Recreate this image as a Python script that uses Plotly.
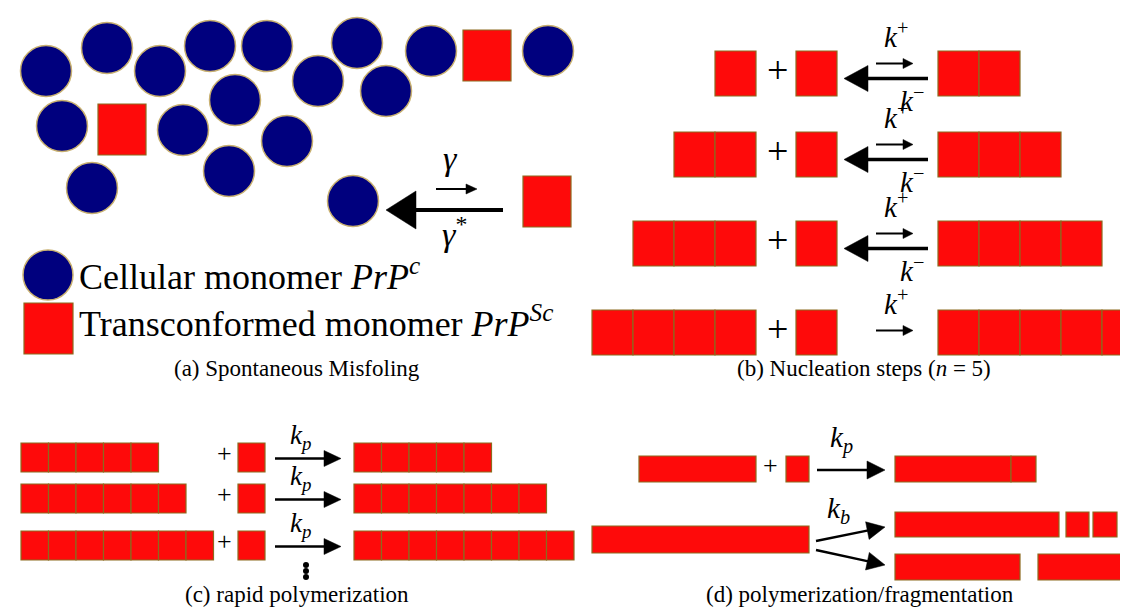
import plotly.graph_objects as go
import math

# ---------------- data (diagram geometry in pixel-like units) ----------------
# Panel (a): cellular monomers (circles) and transconformed monomers (squares)
circle_x = [38, 99, 152, 202, 259, 310, 349, 378, 423, 540, 54, 175, 227, 279, 84, 221, 345]
circle_y = [63, 40, 63, 38, 38, 73, 35, 83, 43, 43, 118, 122, 92, 133, 180, 163, 193]
circle_r = 25.5
square_a_x = [455, 90, 515]
square_a_y = [22, 96, 168]
square_a_w = 48
square_a_h = 51

# Panel (b): nucleation steps
nuc_left_counts = [1, 2, 3, 4]
nuc_right_counts = [2, 3, 4, 5]
nuc_row_top = [43, 124, 213, 302]
nuc_reversible = [True, True, True, False]

# Panel (c): rapid polymerization
poly_left_counts = [5, 6, 7]
poly_right_counts = [5, 7, 8]
poly_row_top = [435, 476, 523]

# Panel (d): polymerization / fragmentation bars  (x0, x1, y0, y1)
frag_bars = [
    (631, 748, 448, 474), (778, 801, 448, 474), (887, 1003, 448, 474), (1003, 1028, 448, 474),
    (584, 801, 518, 545),
    (887, 1051, 504, 529), (1058, 1081, 504, 529), (1085, 1109, 504, 529), (1113, 1136, 504, 529),
    (887, 1012, 546, 572), (1030, 1117, 546, 572),
]

captions = ["(a) Spontaneous Misfoling", "(b) Nucleation steps (<i>n</i> = 5)",
            "(c) rapid polymerization", "(d) polymerization/fragmentation"]
caption_x = [289, 856, 289, 852]
caption_y = [366, 366, 592, 592]

# ---------------- styles ----------------
RED = "#fe0a0a"
RED_EDGE = "#8c6a1e"
BLUE = "#00007e"
BLUE_EDGE = "#c8b070"
FONT = "Liberation Serif"
TEXT_SHIFT = -6

fig = go.Figure()
shapes = []
annotations = []


def rect(x0, x1, y0, y1):
    shapes.append(dict(type="rect", xref="x", yref="y", x0=x0, x1=x1, y0=y0, y1=y1,
                       fillcolor=RED, line=dict(color=RED_EDGE, width=1.2), layer="above"))


def chain(x0, n, w, y0, h):
    for i in range(n):
        rect(x0 + i * w, x0 + (i + 1) * w, y0, y0 + h)


def circ(cx, cy, r):
    shapes.append(dict(type="circle", xref="x", yref="y", x0=cx - r, x1=cx + r, y0=cy - r, y1=cy + r,
                       fillcolor=BLUE, line=dict(color=BLUE_EDGE, width=1.5), layer="above"))


def arrow(x0, y0, x1, y1, head_len, head_half, width):
    dx, dy = x1 - x0, y1 - y0
    L = math.hypot(dx, dy)
    ux, uy = dx / L, dy / L
    bx, by = x1 - ux * head_len, y1 - uy * head_len
    shapes.append(dict(type="line", xref="x", yref="y", x0=x0, y0=y0, x1=bx + ux * 1, y1=by + uy * 1,
                       line=dict(color="black", width=width)))
    px, py = -uy, ux
    path = "M {:.1f},{:.1f} L {:.1f},{:.1f} L {:.1f},{:.1f} Z".format(
        x1, y1, bx + px * head_half, by + py * head_half, bx - px * head_half, by - py * head_half)
    shapes.append(dict(type="path", xref="x", yref="y", path=path, fillcolor="black",
                       line=dict(color="black", width=0.5)))


def text(x, y, s, size, xanchor="center"):
    annotations.append(dict(x=x, y=y + TEXT_SHIFT, xref="x", yref="y", text=s, showarrow=False,
                            xanchor=xanchor, yanchor="middle",
                            font=dict(family=FONT, size=size, color="black")))


# ---------------- panel (a) ----------------
for cx, cy in zip(circle_x, circle_y):
    circ(cx, cy, circle_r)
for sx, sy in zip(square_a_x, square_a_y):
    rect(sx, sx + square_a_w, sy, sy + square_a_h)
arrow(495, 202, 378, 202, 30, 19, 4)
arrow(428, 181, 469, 181, 11, 5, 2)
text(442, 156, "<i>γ</i>", 34)
text(446, 230, "<i>γ</i><sup>*</sup>", 34)
# legend
circ(40, 267, 25)
rect(16, 65, 295, 346)
text(69, 272, "Cellular monomer <i>PrP</i><sup><i>c</i></sup>", 36, "left")
text(69, 319, "Transconformed monomer <i>PrP</i><sup><i>Sc</i></sup>", 36, "left")

# ---------------- panel (b) ----------------
UB = 41
HB = 45
for nl, nr, top, rev in zip(nuc_left_counts, nuc_right_counts, nuc_row_top, nuc_reversible):
    chain(748 - nl * UB, nl, UB, top, HB)
    rect(788, 829, top, top + HB)
    chain(930, nr, UB, top, HB)
    mid = top + HB / 2
    text(769, mid + 2, "+", 38)
    if rev:
        arrow(920, mid + 5, 836, mid + 5, 24, 13, 3.5)
        arrow(868, mid - 10, 905, mid - 10, 10, 5, 2)
        text(888, mid - 33, "<i>k</i><sup>+</sup>", 29)
        text(904, mid + 31, "<i>k</i><sup>−</sup>", 29)
    else:
        arrow(868, mid - 2, 905, mid - 2, 10, 5, 2)
        text(888, mid - 25, "<i>k</i><sup>+</sup>", 29)

# ---------------- panel (c) ----------------
UC = 27.5
HC = 29
for nl, nr, top in zip(poly_left_counts, poly_right_counts, poly_row_top):
    chain(13, nl, UC, top, HC)
    rect(230, 257, top, top + HC)
    chain(346, nr, UC, top, HC)
    mid = top + HC / 2
    text(216, mid + 2, "+", 26)
    arrow(267, mid + 1, 333, mid + 1, 17, 8, 2.5)
    text(292, mid - 15, "<i>k<sub>p</sub></i>", 27)
fig.add_trace(go.Scatter(x=[298, 298, 298], y=[557, 563, 569], mode="markers",
                         marker=dict(color="black", size=6), hoverinfo="skip", showlegend=False))

# ---------------- panel (d) ----------------
for x0, x1, y0, y1 in frag_bars:
    rect(x0, x1, y0, y1)
text(762, 463, "+", 26)
arrow(809, 462, 877, 462, 18, 9, 2.5)
text(833, 437, "<i>k<sub>p</sub></i>", 29)
arrow(808, 533, 877, 519, 18, 9, 2.5)
arrow(808, 542, 877, 557, 18, 9, 2.5)
text(830, 508, "<i>k<sub>b</sub></i>", 29)

# ---------------- captions ----------------
for s, x, y in zip(captions, caption_x, caption_y):
    text(x, y, s, 23)

fig.update_layout(
    width=1128, height=610,
    margin=dict(l=0, r=0, t=0, b=0),
    paper_bgcolor="white", plot_bgcolor="white",
    font=dict(family=FONT, size=23, color="black"),
    xaxis=dict(range=[0, 1128], visible=False, fixedrange=True),
    yaxis=dict(range=[610, 0], visible=False, fixedrange=True),
    shapes=shapes, annotations=annotations, showlegend=False,
)
fig.write_html("out.html")
